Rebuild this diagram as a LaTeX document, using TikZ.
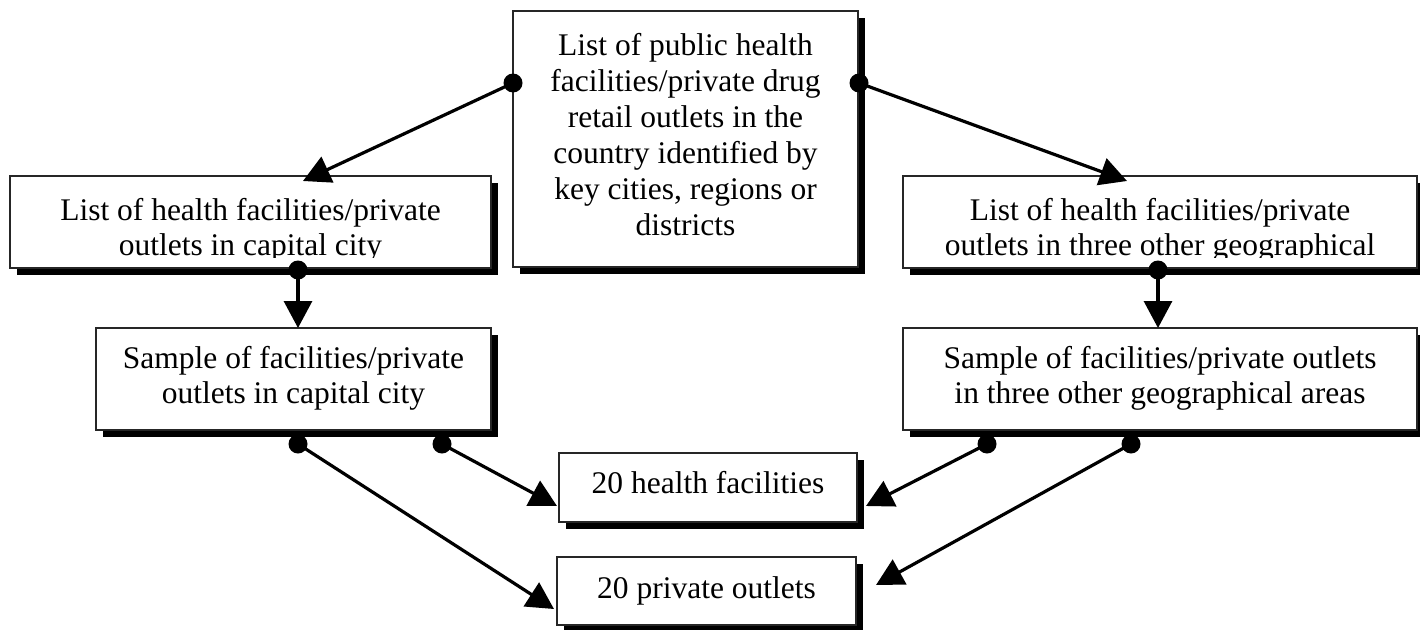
\documentclass[tikz,border=0pt]{standalone}
\usepackage{fontspec}
\setmainfont{Liberation Serif}
\usetikzlibrary{arrows.meta,shadows,calc}
\begin{document}
\begin{tikzpicture}[x=1pt,y=-1pt,
  box/.style={rectangle, draw=black!85, line width=1.4pt, fill=white,
    inner sep=0pt, outer sep=0pt, anchor=north west,
    drop shadow={shadow xshift=7pt, shadow yshift=-7pt, fill=black, opacity=1}},
  txt/.style={font=\fontsize{31.5}{35}\selectfont, align=center, inner sep=0pt, anchor=north},
  txtwide/.style={font=\fontsize{31.5}{36}\selectfont, align=center, inner sep=0pt, anchor=north},
  link/.style={line width=3.2pt, -{Triangle[length=27pt,width=28pt]}},
  dot/.style={fill=black}
]
\path[use as bounding box, fill=white] (0,0) rectangle (1420,629);

% boxes
\node[box, minimum width=345pt, minimum height=256pt] (C)  at (513,11)  {};
\node[box, minimum width=481pt, minimum height=92pt]  (L1) at (10,176)  {};
\node[box, minimum width=514pt, minimum height=92pt]  (R1) at (903,176) {};
\node[box, minimum width=395pt, minimum height=102pt] (L2) at (96,328)  {};
\node[box, minimum width=514pt, minimum height=102pt] (R2) at (903,328) {};
\node[box, minimum width=298pt, minimum height=69pt]  (H)  at (559,453) {};
\node[box, minimum width=299pt, minimum height=68pt]  (P)  at (557,557) {};

% texts
\node[txtwide] (Ct) at ($(C.north)+(0,22.5)$) {List of public health\\facilities/private drug\\retail outlets in the\\country identified by\\key cities, regions or\\districts};
\begin{scope}
  \clip (L1.north west) rectangle ($(L1.south east)+(0,-11)$);
  \node[txt] (L1t) at ($(L1.north)+(0,22.5)$) {List of health facilities/private\\outlets in capital city};
\end{scope}
\begin{scope}
  \clip (R1.north west) rectangle ($(R1.south east)+(0,-11)$);
  \node[txt] (R1t) at ($(R1.north)+(0,22.5)$) {List of health facilities/private\\outlets in three other geographical\\areas};
\end{scope}
\node[txt] (L2t) at ($(L2.north)+(0,18.5)$) {Sample of facilities/private\\outlets in capital city};
\node[txt] (R2t) at ($(R2.north)+(0,18.5)$) {Sample of facilities/private outlets\\in three other geographical areas};
\node[txt] (Ht) at ($(H.north)+(0,18.5)$) {20 health facilities};
\node[txt] (Pt) at ($(P.north)+(0,19.5)$) {20 private outlets};

% connector end points
\coordinate (cl)    at ($(C.north west)+(0,72)$);
\coordinate (cr)    at ($(C.north east)+(1,72)$);
\coordinate (l1in)  at ($(L1.north west)+(293,5)$);
\coordinate (r1in)  at ($(R1.north west)+(224,5)$);
\coordinate (l1out) at ($(L1.south west)+(288,2)$);
\coordinate (r1out) at ($(R1.south west)+(255,2)$);
\coordinate (l2in)  at ($(L2.north west)+(202,0)$);
\coordinate (r2in)  at ($(R2.north west)+(255,0)$);
\coordinate (l2a)   at ($(L2.south west)+(202,14)$);
\coordinate (l2b)   at ($(L2.south west)+(346,14)$);
\coordinate (r2a)   at ($(R2.south west)+(84,14)$);
\coordinate (r2b)   at ($(R2.south west)+(228,14)$);
\coordinate (hl)    at ($(H.north west)+(-2,53)$);
\coordinate (hr)    at ($(H.north east)+(9,53)$);
\coordinate (pl)    at ($(P.north west)+(-3,52)$);
\coordinate (pr)    at ($(P.north east)+(20,28)$);

% connectors
\draw[link] (cl) -- (l1in);
\draw[link] (cr) -- (r1in);
\draw[link] (l1out) -- (l2in);
\draw[link] (r1out) -- (r2in);
\draw[link] (l2a) -- (pl);
\draw[link] (l2b) -- (hl);
\draw[link] (r2a) -- (hr);
\draw[link] (r2b) -- (pr);

% start dots
\foreach \p in {cl,cr,l1out,r1out,l2a,l2b,r2a,r2b}
  \fill[dot] (\p) circle (9.5pt);
\end{tikzpicture}
\end{document}
